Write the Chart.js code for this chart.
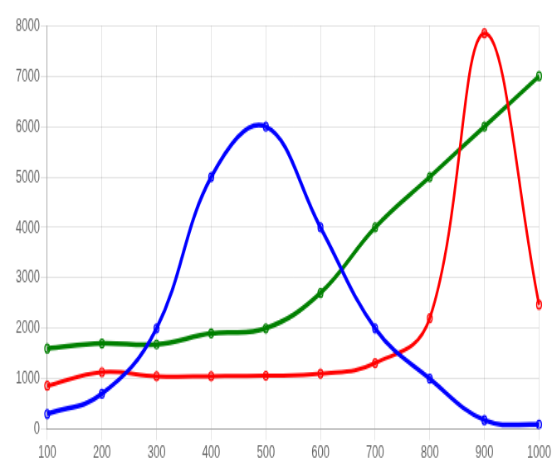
<!DOCTYPE html>
<html>
<head>
<meta charset="utf-8">
<script src="https://cdn.jsdelivr.net/npm/chart.js@4/dist/chart.umd.min.js"></script>
<style>
  html, body { margin: 0; padding: 0; background: #fff; overflow: hidden; }
  #outer { width: 553px; height: 459px; position: relative; overflow: hidden; }
  #wrap { position: absolute; left: 0; top: 0; width: 666px; height: 330.8px; transform-origin: 0 0; transform: scale(0.83, 1.4); }
</style>
</head>
<body>
<div id="outer"><div id="wrap"><canvas id="c"></canvas></div></div>
<script>
const categories = ['100','200','300','400','500','600','700','800','900','1000'];
const blueValues = [300, 700, 2000, 5000, 6000, 4000, 2000, 1000, 180, 90];
const redValues = [860, 1130, 1050, 1050, 1060, 1100, 1310, 2200, 7850, 2470];
const greenValues = [1600, 1700, 1680, 1900, 2000, 2700, 4000, 5000, 6000, 7000];
const yTicks = [0, 1000, 2000, 3000, 4000, 5000, 6000, 7000, 8000];

const font = { family: '"Liberation Sans", Arial, sans-serif', size: 13, lineHeight: 1.0 };

function ds(data, color, fill, width) {
  return {
    data: data,
    borderColor: color,
    backgroundColor: fill,
    borderWidth: width,
    tension: 0.4,
    fill: false,
    pointRadius: 3,
    pointBorderWidth: 1.2,
    pointBorderColor: color,
    pointBackgroundColor: fill
  };
}

new Chart(document.getElementById('c'), {
  type: 'line',
  data: {
    labels: categories,
    datasets: [
      ds(blueValues, '#0000ff', 'rgba(0,0,255,0.2)', 3.5),
      ds(redValues, '#ff0000', 'rgba(255,0,0,0.2)', 3),
      ds(greenValues, '#008000', 'rgba(0,128,0,0.2)', 3.5)
    ]
  },
  options: {
    responsive: true,
    maintainAspectRatio: false,
    animation: false,
    devicePixelRatio: 1,
    layout: { padding: { left: 18, top: 18.3, right: 0, bottom: 0 } },
    plugins: { legend: { display: false }, tooltip: { enabled: false } },
    scales: {
      x: {
        offset: false,
        grid: { color: 'rgba(0,0,0,0.1)', tickLength: 8 },
        border: { color: 'rgba(0,0,0,0.25)' },
        ticks: { color: '#666', font: font, padding: 2.1, maxRotation: 0 }
      },
      y: {
        min: 0,
        max: 8000,
        afterBuildTicks: (axis) => { axis.ticks = yTicks.map(v => ({ value: v })); },
        grid: { color: 'rgba(0,0,0,0.1)', tickLength: 8 },
        border: { color: 'rgba(0,0,0,0.25)' },
        ticks: { color: '#666', font: font, padding: 1, callback: (v) => String(v) }
      }
    }
  }
});
</script>
</body>
</html>
